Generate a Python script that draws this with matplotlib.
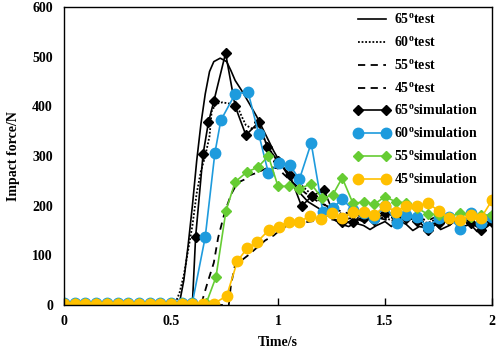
import matplotlib.pyplot as plt

plt.rcParams['font.family'] = 'Liberation Serif'
plt.rcParams['font.weight'] = 'bold'
plt.rcParams['mathtext.fontset'] = 'custom'
plt.rcParams['mathtext.rm'] = 'Liberation Serif:bold'
plt.rcParams['mathtext.bf'] = 'Liberation Serif:bold'

# test curves
t65_test = [0, 0.45, 0.48, 0.50, 0.52, 0.54, 0.56, 0.58, 0.60, 0.62, 0.64, 0.66, 0.68, 0.70, 0.73,
            0.76, 0.78, 0.80, 0.83, 0.86, 0.90, 0.94, 0.98, 1.02, 1.05, 1.08, 1.11, 1.14, 1.17, 1.20,
            1.23, 1.26, 1.30, 1.33, 1.36, 1.40, 1.43, 1.46, 1.50, 1.53, 1.56, 1.60, 1.63, 1.66, 1.70,
            1.73, 1.76, 1.80, 1.83, 1.86, 1.90, 1.93, 1.96, 2.0]
f65_test = [0, 0, 6, 12, 4, 5, 50, 120, 200, 290, 365, 425, 470, 490, 497,
            490, 472, 452, 432, 410, 380, 345, 310, 280, 258, 238, 222, 208, 200, 192,
            182, 172, 162, 158, 165, 160, 152, 160, 168, 158, 172, 162, 150, 158, 155,
            165, 152, 160, 170, 158, 162, 148, 152, 165]

t60_test = [0, 0.50, 0.52, 0.54, 0.56, 0.58, 0.60, 0.62, 0.64, 0.66, 0.68, 0.69, 0.71, 0.74, 0.78,
            0.81, 0.83, 0.85, 0.88, 0.91, 0.94, 0.98, 1.02, 1.06, 1.10, 1.15, 1.20, 1.25, 1.30, 1.35,
            1.40, 1.45, 1.50, 1.55, 1.60, 1.65, 1.70, 1.75, 1.80, 1.85, 1.90, 1.95, 2.0]
f60_test = [0, 0, 3, 25, 60, 110, 160, 225, 270, 300, 340, 390, 405, 408, 405,
            400, 380, 362, 355, 360, 330, 300, 278, 262, 245, 225, 208, 192, 183, 178,
            172, 180, 175, 168, 178, 172, 165, 175, 170, 178, 168, 172, 175]

t55_test = [0, 0.64, 0.67, 0.70, 0.72, 0.75, 0.78, 0.81, 0.84, 0.86, 0.90, 0.93, 0.96, 1.00,
            1.03, 1.06, 1.10, 1.15, 1.20, 1.25, 1.30, 1.35, 1.40, 1.45, 1.50, 1.55, 1.60, 1.65,
            1.70, 1.75, 1.80, 1.85, 1.90, 1.95, 2.0]
f55_test = [0, 0, 44, 85, 135, 185, 222, 246, 252, 260, 266, 272, 278, 275,
            262, 250, 235, 218, 205, 195, 188, 182, 178, 185, 180, 172, 182, 176,
            170, 180, 174, 168, 178, 172, 176]

t45_test = [0, 0.77, 0.78, 0.80, 0.83, 0.86, 0.90, 0.94, 0.98, 1.02, 1.06, 1.10, 1.15, 1.20,
            1.25, 1.30, 1.35, 1.40, 1.45, 1.50, 1.55, 1.60, 1.65, 1.70, 1.75, 1.80, 1.85, 1.90,
            1.95, 2.0]
f45_test = [0, 0, 40, 82, 90, 100, 115, 130, 140, 155, 163, 165, 168, 171,
            172, 171, 176, 168, 178, 172, 165, 175, 168, 160, 170, 165, 175, 168,
            160, 172]

# simulation curves
t65_sim = [0, 0.05, 0.10, 0.15, 0.20, 0.25, 0.30, 0.35, 0.40, 0.45, 0.50, 0.55, 0.60, 0.615,
           0.65, 0.675, 0.70, 0.755, 0.80, 0.85, 0.91, 0.95, 1.00, 1.055, 1.11, 1.16, 1.215, 1.25,
           1.30, 1.35, 1.40, 1.45, 1.50, 1.55, 1.60, 1.65, 1.70, 1.75, 1.80, 1.85, 1.90, 1.95, 2.0]
f65_sim = [3, 3, 3, 3, 3, 3, 3, 3, 3, 3, 3, 3, 3, 137,
           304, 368, 410, 507, 400, 342, 368, 318, 290, 262, 199, 220, 231, 195,
           167, 168, 175, 172, 185, 178, 176, 170, 152, 165, 172, 170, 165, 152, 168]

t60_sim = [0, 0.05, 0.10, 0.15, 0.20, 0.25, 0.30, 0.35, 0.40, 0.45, 0.50, 0.55, 0.60, 0.66,
           0.705, 0.733, 0.80, 0.86, 0.91, 0.955, 1.005, 1.055, 1.10, 1.155, 1.21, 1.255, 1.30,
           1.35, 1.40, 1.45, 1.50, 1.555, 1.60, 1.65, 1.70, 1.75, 1.80, 1.85, 1.90, 1.95, 2.0]
f60_sim = [5, 5, 5, 5, 5, 5, 5, 5, 5, 5, 5, 5, 5, 137,
           306, 372, 425, 429, 344, 266, 285, 282, 253, 326, 187, 195, 213,
           192, 185, 175, 200, 165, 182, 178, 157, 175, 177, 153, 185, 165, 177]

t55_sim = [0, 0.05, 0.10, 0.15, 0.20, 0.25, 0.30, 0.35, 0.40, 0.45, 0.50, 0.55, 0.60, 0.665,
           0.71, 0.757, 0.80, 0.855, 0.905, 0.955, 1.00, 1.05, 1.10, 1.155, 1.205, 1.255, 1.30,
           1.35, 1.40, 1.45, 1.50, 1.55, 1.60, 1.65, 1.70, 1.75, 1.80, 1.85, 1.90, 1.95, 2.0]
f55_sim = [4, 4, 4, 4, 4, 4, 4, 4, 4, 4, 4, 4, 4, 4,
           56, 190, 248, 268, 277, 300, 239, 239, 234, 244, 215, 221, 256,
           205, 207, 203, 218, 208, 205, 195, 183, 182, 177, 185, 178, 181, 181]

t45_sim = [0, 0.05, 0.10, 0.15, 0.20, 0.25, 0.30, 0.35, 0.40, 0.45, 0.50, 0.55, 0.60, 0.65,
           0.70, 0.76, 0.81, 0.855, 0.90, 0.96, 1.005, 1.05, 1.10, 1.15, 1.20, 1.25, 1.30,
           1.35, 1.40, 1.45, 1.50, 1.55, 1.60, 1.65, 1.70, 1.75, 1.80, 1.85, 1.90, 1.95, 2.0]
f45_sim = [3, 3, 3, 3, 3, 3, 3, 3, 3, 3, 3, 3, 3, 3,
           3, 18, 88, 114, 126, 152, 158, 168, 167, 180, 173, 185, 176,
           187, 187, 181, 200, 188, 200, 200, 205, 190, 175, 172, 181, 176, 211]

blue = '#1E9BDD'
green = '#66CC33'
orange = '#FFC000'

fig = plt.figure(figsize=(4.98, 3.55), dpi=100)
ax = fig.add_axes([64 / 498, 1 - 305 / 355, 428 / 498, 298 / 355])

ax.plot(t65_test, f65_test, color='black', lw=1.2, label=r'65$^{\rm o}$test')
ax.plot(t60_test, f60_test, color='black', lw=1.3, ls=(0, (1, 1)), label=r'60$^{\rm o}$test')
ax.plot(t55_test, f55_test, color='black', lw=1.3, ls=(0, (4, 3)), label=r'55$^{\rm o}$test')
ax.plot(t45_test, f45_test, color='black', lw=1.3, ls=(0, (4, 3)), label=r'45$^{\rm o}$test')

ax.plot(t65_sim, f65_sim, color='black', lw=1.2, marker='D', ms=5,
        label=r'65$^{\rm o}$simulation')
ax.plot(t60_sim, f60_sim, color=blue, lw=1.2, marker='o', ms=7.5,
        label=r'60$^{\rm o}$simulation')
ax.plot(t55_sim, f55_sim, color=green, lw=1.2, marker='D', ms=5,
        label=r'55$^{\rm o}$simulation')
ax.plot(t45_sim, f45_sim, color=orange, lw=1.2, marker='o', ms=7.5,
        label=r'45$^{\rm o}$simulation')

ax.set_xlim(0, 2)
ax.set_ylim(0, 600)
ax.set_xticks([0, 0.5, 1, 1.5, 2])
ax.set_xticklabels(['0', '0.5', '1', '1.5', '2'])
ax.set_yticks([0, 100, 200, 300, 400, 500, 600])
ax.tick_params(axis='x', direction='in', length=5, width=1, pad=7, labelsize=10)
ax.tick_params(axis='y', direction='in', length=0, pad=8, labelsize=10)
for s in ax.spines.values():
    s.set_linewidth(1.0)

ax.set_xlabel('Time/s', fontsize=10, fontweight='bold', labelpad=6)
ax.set_ylabel('Impact force/N', fontsize=10, fontweight='bold', labelpad=9)

ax.legend(loc='upper right', bbox_to_anchor=(0.98, 1.0), frameon=False, fontsize=10,
          numpoints=2, handlelength=2.6, handletextpad=0.3, labelspacing=0.58,
          borderaxespad=0.2, borderpad=0.2)

plt.savefig('out.png', dpi=100)
